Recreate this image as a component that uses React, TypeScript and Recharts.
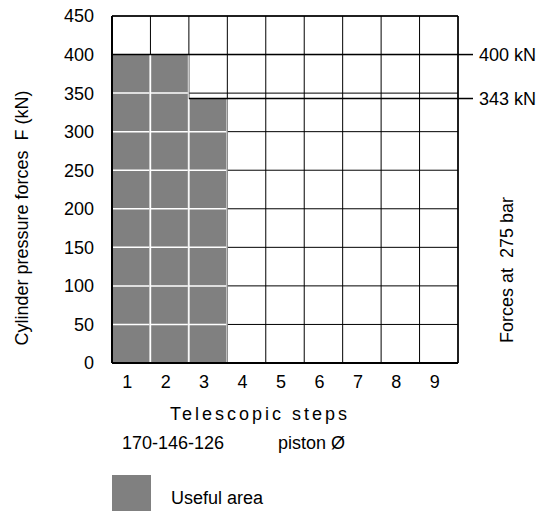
import React from 'react';
import { ComposedChart, Bar, XAxis, YAxis, CartesianGrid, ReferenceLine } from 'recharts';

const STEPS = ['1', '2', '3', '4', '5', '6', '7', '8', '9'];
const FORCES = [400, 400, 343, 0, 0, 0, 0, 0, 0];
const Y_TICKS = [0, 50, 100, 150, 200, 250, 300, 350, 400, 450];
const MAX_FORCE = 400;
const REDUCED_FORCE = 343;
const PISTONS = '170-146-126';

const GRAY = '#808080';
const FONT = '"Liberation Sans", Arial, sans-serif';

const data = STEPS.map((step, i) => ({ step, force: FORCES[i] }));

// gray cell block with white grid lines running through it
const UsefulBar = (props: any) => {
  const { x, y, width, height, payload } = props;
  if (!height || height <= 0) return null;
  const value = payload.force;
  const perUnit = height / value;
  const rows = Y_TICKS.filter(t => t > 0 && t < value).map(t => y + height - t * perUnit);
  return (
    <g>
      <rect x={x} y={y} width={width} height={height} fill={GRAY} />
      {rows.map(ry => (
        <line key={ry} x1={x} x2={x + width} y1={ry} y2={ry} stroke="#fff" strokeWidth={1.5} />
      ))}
      <line x1={x + width} x2={x + width} y1={y} y2={y + height} stroke="#c8c8c8" strokeWidth={1.5} />
      <line x1={x} x2={x} y1={y} y2={y + height} stroke="#fff" strokeWidth={1.5} />
    </g>
  );
};

const LimitLabel = ({ viewBox, text }: any) => {
  if (!viewBox) return null;
  const right = viewBox.x + viewBox.width;
  const y = viewBox.y;
  return (
    <g>
      <line x1={right} x2={right + 15} y1={y} y2={y} stroke="#000" strokeWidth={1.5} />
      <text x={right + 21} y={y} dy="0.35em" fontSize={18} fill="#000">{text}</text>
    </g>
  );
};

// 343 kN line only runs from the first reduced step to the right edge
const ReducedLine = (props: any) => {
  const { x1, x2, y1 } = props;
  const firstReduced = FORCES.indexOf(REDUCED_FORCE);
  const start = x1 + ((x2 - x1) * firstReduced) / STEPS.length;
  return <line x1={start} x2={x2} y1={y1} y2={y1} stroke="#000" strokeWidth={1.5} />;
};

const textStyle: React.CSSProperties = {
  position: 'absolute',
  fontSize: 18,
  lineHeight: '18px',
  color: '#000',
  whiteSpace: 'pre',
};

export default function App() {
  return (
    <div style={{ position: 'absolute', left: 0, top: 0, width: 551, height: 511, background: '#fff', fontFamily: FONT, overflow: 'hidden' }}>
      <ComposedChart
        width={551}
        height={511}
        data={data}
        margin={{ top: 16, right: 0, bottom: 118, left: 52 }}
        barCategoryGap={0}
        barGap={0}
      >
        <CartesianGrid
          stroke="#000"
          strokeWidth={1}
          verticalCoordinatesGenerator={({ offset }: any) =>
            STEPS.map((_, i) => offset.left + (offset.width * i) / STEPS.length).concat(offset.left + offset.width)
          }
        />
        <Bar dataKey="force" fill={GRAY} shape={<UsefulBar />} isAnimationActive={false} />
        <ReferenceLine y={450} stroke="#000" strokeWidth={1.5} />
        <ReferenceLine
          y={MAX_FORCE}
          stroke="#000"
          strokeWidth={1.5}
          label={(p: any) => <LimitLabel viewBox={p.viewBox} text={`${MAX_FORCE} kN`} />}
        />
        <ReferenceLine
          y={REDUCED_FORCE}
          shape={<ReducedLine />}
          label={(p: any) => <LimitLabel viewBox={p.viewBox} text={`${REDUCED_FORCE} kN`} />}
        />
        <XAxis
          dataKey="step"
          interval={0}
          tickLine={false}
          axisLine={{ stroke: '#000', strokeWidth: 2 }}
          tick={{ fill: '#000', fontSize: 18, dx: -4 }}
          tickMargin={6}
          height={30}
          label={(p: any) => (
            <text x={p.viewBox.x + 58} y={p.viewBox.y + 56.5} fontSize={18} letterSpacing={3} fill="#000">
              Telescopic steps
            </text>
          )}
        />
        <YAxis
          domain={[0, 450]}
          ticks={Y_TICKS}
          interval={0}
          tickLine={false}
          axisLine={{ stroke: '#000', strokeWidth: 2 }}
          tick={{ fill: '#000', fontSize: 18 }}
          tickMargin={12}
          width={60}
          label={(p: any) => (
            <text
              transform={`translate(${p.viewBox.x - 30}, ${p.viewBox.y + p.viewBox.height / 2 + 28.5}) rotate(-90)`}
              textAnchor="middle"
              dy="0.35em"
              fontSize={18}
              fill="#000"
              style={{ whiteSpace: 'pre' }}
            >
              {'Cylinder pressure forces  F (kN)'}
            </text>
          )}
        />
        <YAxis
          yAxisId="r"
          orientation="right"
          domain={[0, 450]}
          ticks={Y_TICKS}
          tick={false}
          tickLine={false}
          axisLine={{ stroke: '#000', strokeWidth: 1.5 }}
          width={93}
          label={(p: any) => (
            <text
              transform={`translate(${p.viewBox.x + 49}, ${p.viewBox.y + p.viewBox.height / 2 + 80.5}) rotate(-90)`}
              textAnchor="middle"
              dy="0.35em"
              fontSize={18}
              fill="#000"
              style={{ whiteSpace: 'pre' }}
            >
              {'Forces at  275 bar'}
            </text>
          )}
        />
      </ComposedChart>
      <div style={{ ...textStyle, left: 122, top: 434 }}>{PISTONS}</div>
      <div style={{ ...textStyle, left: 278, top: 434 }}>piston Ø</div>
      <div style={{ position: 'absolute', left: 112, top: 475, width: 39, height: 39, background: GRAY }} />
      <div style={{ ...textStyle, left: 171, top: 489 }}>Useful area</div>
    </div>
  );
}
